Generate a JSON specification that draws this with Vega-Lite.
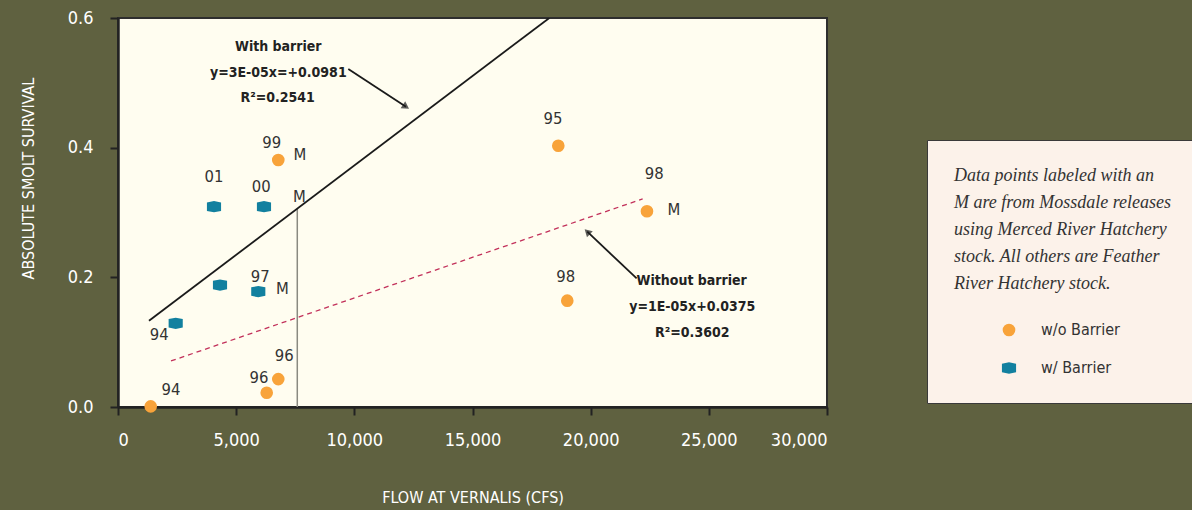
{
  "$schema": "https://vega.github.io/schema/vega-lite/v6.json",
  "width": 709,
  "height": 389,
  "autosize": "none",
  "padding": {"left": 118, "top": 18, "right": 365, "bottom": 103},
  "background": "#5f6140",
  "config": {
    "view": {"fill": "#fffdf0", "stroke": "#2e2e2e", "strokeWidth": 2},
    "font": "DejaVu Sans Condensed, sans-serif",
    "axis": {
      "grid": false,
      "domainColor": "#222222",
      "domainWidth": 2.5,
      "tickColor": "#222222",
      "tickWidth": 2,
      "tickSize": 8,
      "labelColor": "#ffffff",
      "labelFont": "DejaVu Sans Condensed, sans-serif",
      "labelFontSize": 18,
      "titleColor": "#ffffff",
      "titleFont": "DejaVu Sans Condensed, sans-serif",
      "titleFontSize": 16,
      "titleFontWeight": "normal"
    },
    "legend": {
      "orient": "none",
      "legendX": 809,
      "legendY": 122,
      "fillColor": "#fcf2ea",
      "strokeColor": "#3a3a3a",
      "padding": 27,
      "titleFont": "Liberation Serif",
      "titleFontStyle": "italic",
      "titleFontWeight": "normal",
      "titleFontSize": 18,
      "titleLineHeight": 27,
      "titleColor": "#333333",
      "titlePadding": 29,
      "titleLimit": 400,
      "labelFont": "DejaVu Sans Condensed, sans-serif",
      "labelFontSize": 16,
      "labelColor": "#333333",
      "labelOffset": 24,
      "symbolOffset": 47,
      "rowPadding": 22,
      "symbolStrokeWidth": 0
    }
  },
  "datasets": {
    "points": [
      {"flow": 1384, "survival": 0.001, "series": "w/o Barrier"},
      {"flow": 6292, "survival": 0.022, "series": "w/o Barrier"},
      {"flow": 6782, "survival": 0.043, "series": "w/o Barrier"},
      {"flow": 6782, "survival": 0.381, "series": "w/o Barrier"},
      {"flow": 18630, "survival": 0.403, "series": "w/o Barrier"},
      {"flow": 22382, "survival": 0.302, "series": "w/o Barrier"},
      {"flow": 19010, "survival": 0.164, "series": "w/o Barrier"},
      {"flow": 4062, "survival": 0.309, "series": "w/ Barrier"},
      {"flow": 6177, "survival": 0.309, "series": "w/ Barrier"},
      {"flow": 4316, "survival": 0.188, "series": "w/ Barrier"},
      {"flow": 5936, "survival": 0.178, "series": "w/ Barrier"},
      {"flow": 2441, "survival": 0.129, "series": "w/ Barrier"}
    ],
    "fits": [
      {"flow": 1312, "survival": 0.133, "fit": "with"},
      {"flow": 18250, "survival": 0.6, "fit": "with"},
      {"flow": 2242, "survival": 0.071, "fit": "without"},
      {"flow": 22200, "survival": 0.321, "fit": "without"}
    ],
    "marker": [
      {"flow": 7586, "survival": 0.3054}
    ],
    "arrows": [
      {"id": "a1", "flow": 9744, "survival": 0.5215, "flow2": 12185, "survival2": 0.4632},
      {"id": "a2", "flow": 21946, "survival": 0.1983, "flow2": 19856, "survival2": 0.2704}
    ],
    "labels": [
      {"flow": 6503, "survival": 0.4068, "text": "99"},
      {"flow": 7700, "survival": 0.3887, "text": "M"},
      {"flow": 4062, "survival": 0.3552, "text": "01"},
      {"flow": 6063, "survival": 0.3389, "text": "00"},
      {"flow": 7671, "survival": 0.3244, "text": "M"},
      {"flow": 6021, "survival": 0.201, "text": "97"},
      {"flow": 6952, "survival": 0.1816, "text": "M"},
      {"flow": 1747, "survival": 0.111, "text": "94"},
      {"flow": 7036, "survival": 0.0787, "text": "96"},
      {"flow": 5966, "survival": 0.0452, "text": "96"},
      {"flow": 2242, "survival": 0.0262, "text": "94"},
      {"flow": 18405, "survival": 0.4442, "text": "95"},
      {"flow": 22691, "survival": 0.359, "text": "98"},
      {"flow": 23524, "survival": 0.3039, "text": "M"},
      {"flow": 18942, "survival": 0.201, "text": "98"}
    ],
    "notes": [
      {"flow": 6782, "survival": 0.5558, "text": "With barrier"},
      {"flow": 6782, "survival": 0.5157, "text": "y=3E-05x=+0.0981"},
      {"flow": 6757, "survival": 0.4762, "text": "R²=0.2541"},
      {"flow": 24274, "survival": 0.1944, "text": "Without barrier"},
      {"flow": 24299, "survival": 0.1547, "text": "y=1E-05x+0.0375"},
      {"flow": 24299, "survival": 0.1137, "text": "R²=0.3602"}
    ]
  },
  "encoding": {
    "x": {
      "field": "flow",
      "type": "quantitative",
      "scale": {"domain": [0, 30000], "nice": false, "zero": false},
      "axis": {
        "title": "FLOW AT VERNALIS (CFS)",
        "values": [0, 5000, 10000, 15000, 20000, 25000, 30000],
        "format": ",.0f",
        "labelPadding": 16,
        "titleY": 90,
        "titleBaseline": "middle"
      }
    },
    "y": {
      "field": "survival",
      "type": "quantitative",
      "scale": {"domain": [0, 0.6], "nice": false},
      "axis": {
        "title": "ABSOLUTE SMOLT SURVIVAL",
        "values": [0, 0.2, 0.4, 0.6],
        "format": ".1f",
        "labelPadding": 17,
        "titleX": -90,
        "titleY": 160,
        "titleAngle": -90,
        "titleAlign": "center",
        "titleBaseline": "middle"
      }
    }
  },
  "layer": [
    {
      "data": {"name": "marker"},
      "mark": {"type": "rule", "color": "#8a8a80", "strokeWidth": 1.5},
      "encoding": {"y": {"datum": 0}, "y2": {"field": "survival"}}
    },
    {
      "data": {"name": "fits"},
      "transform": [{"filter": "datum.fit == 'with'"}],
      "mark": {"type": "line", "color": "#1a1a1a", "strokeWidth": 1.8, "clip": true}
    },
    {
      "data": {"name": "fits"},
      "transform": [{"filter": "datum.fit == 'without'"}],
      "mark": {"type": "line", "color": "#c2305a", "strokeWidth": 1.3, "strokeDash": [5, 4]}
    },
    {
      "data": {"name": "arrows"},
      "mark": {"type": "rule", "color": "#1a1a1a", "strokeWidth": 1.8},
      "encoding": {"x2": {"field": "flow2"}, "y2": {"field": "survival2"}}
    },
    {
      "data": {"name": "arrows"},
      "transform": [{"filter": "datum.id == 'a1'"}],
      "mark": {"type": "point", "shape": "triangle-right", "filled": true, "color": "#1a1a1a", "size": 70, "angle": 33},
      "encoding": {"x": {"field": "flow2", "type": "quantitative"}, "y": {"field": "survival2", "type": "quantitative"}}
    },
    {
      "data": {"name": "arrows"},
      "transform": [{"filter": "datum.id == 'a2'"}],
      "mark": {"type": "point", "shape": "triangle-right", "filled": true, "color": "#1a1a1a", "size": 70, "angle": 224},
      "encoding": {"x": {"field": "flow2", "type": "quantitative"}, "y": {"field": "survival2", "type": "quantitative"}}
    },
    {
      "data": {"name": "points"},
      "mark": {"type": "point", "filled": true, "opacity": 1},
      "encoding": {
        "color": {
          "field": "series",
          "type": "nominal",
          "scale": {"domain": ["w/o Barrier", "w/ Barrier"], "range": ["#f8a33a", "#12809f"]},
          "legend": {
            "title": ["Data points labeled with an", "M are from Mossdale releases", "using Merced River Hatchery", "stock. All others are Feather", "River Hatchery stock."],
            "encode": {"legend": {"update": {"strokeWidth": {"value": 2}}}}
          }
        },
        "shape": {
          "field": "series",
          "type": "nominal",
          "scale": {"domain": ["w/o Barrier", "w/ Barrier"], "range": ["circle", "M-1,-0.6L0,-0.8L1,-0.6L1,0.6L0,0.8L-1,0.6Z"]}
        },
        "size": {
          "field": "series",
          "type": "nominal",
          "scale": {"domain": ["w/o Barrier", "w/ Barrier"], "range": [160, 200]}
        }
      }
    },
    {
      "data": {"name": "labels"},
      "mark": {"type": "text", "fontSize": 16.5, "color": "#333333", "align": "center", "baseline": "middle"},
      "encoding": {"text": {"field": "text"}}
    },
    {
      "data": {"name": "notes"},
      "mark": {"type": "text", "fontSize": 14, "fontWeight": "bold", "color": "#222222", "align": "center", "baseline": "middle"},
      "encoding": {"text": {"field": "text"}}
    }
  ]
}
